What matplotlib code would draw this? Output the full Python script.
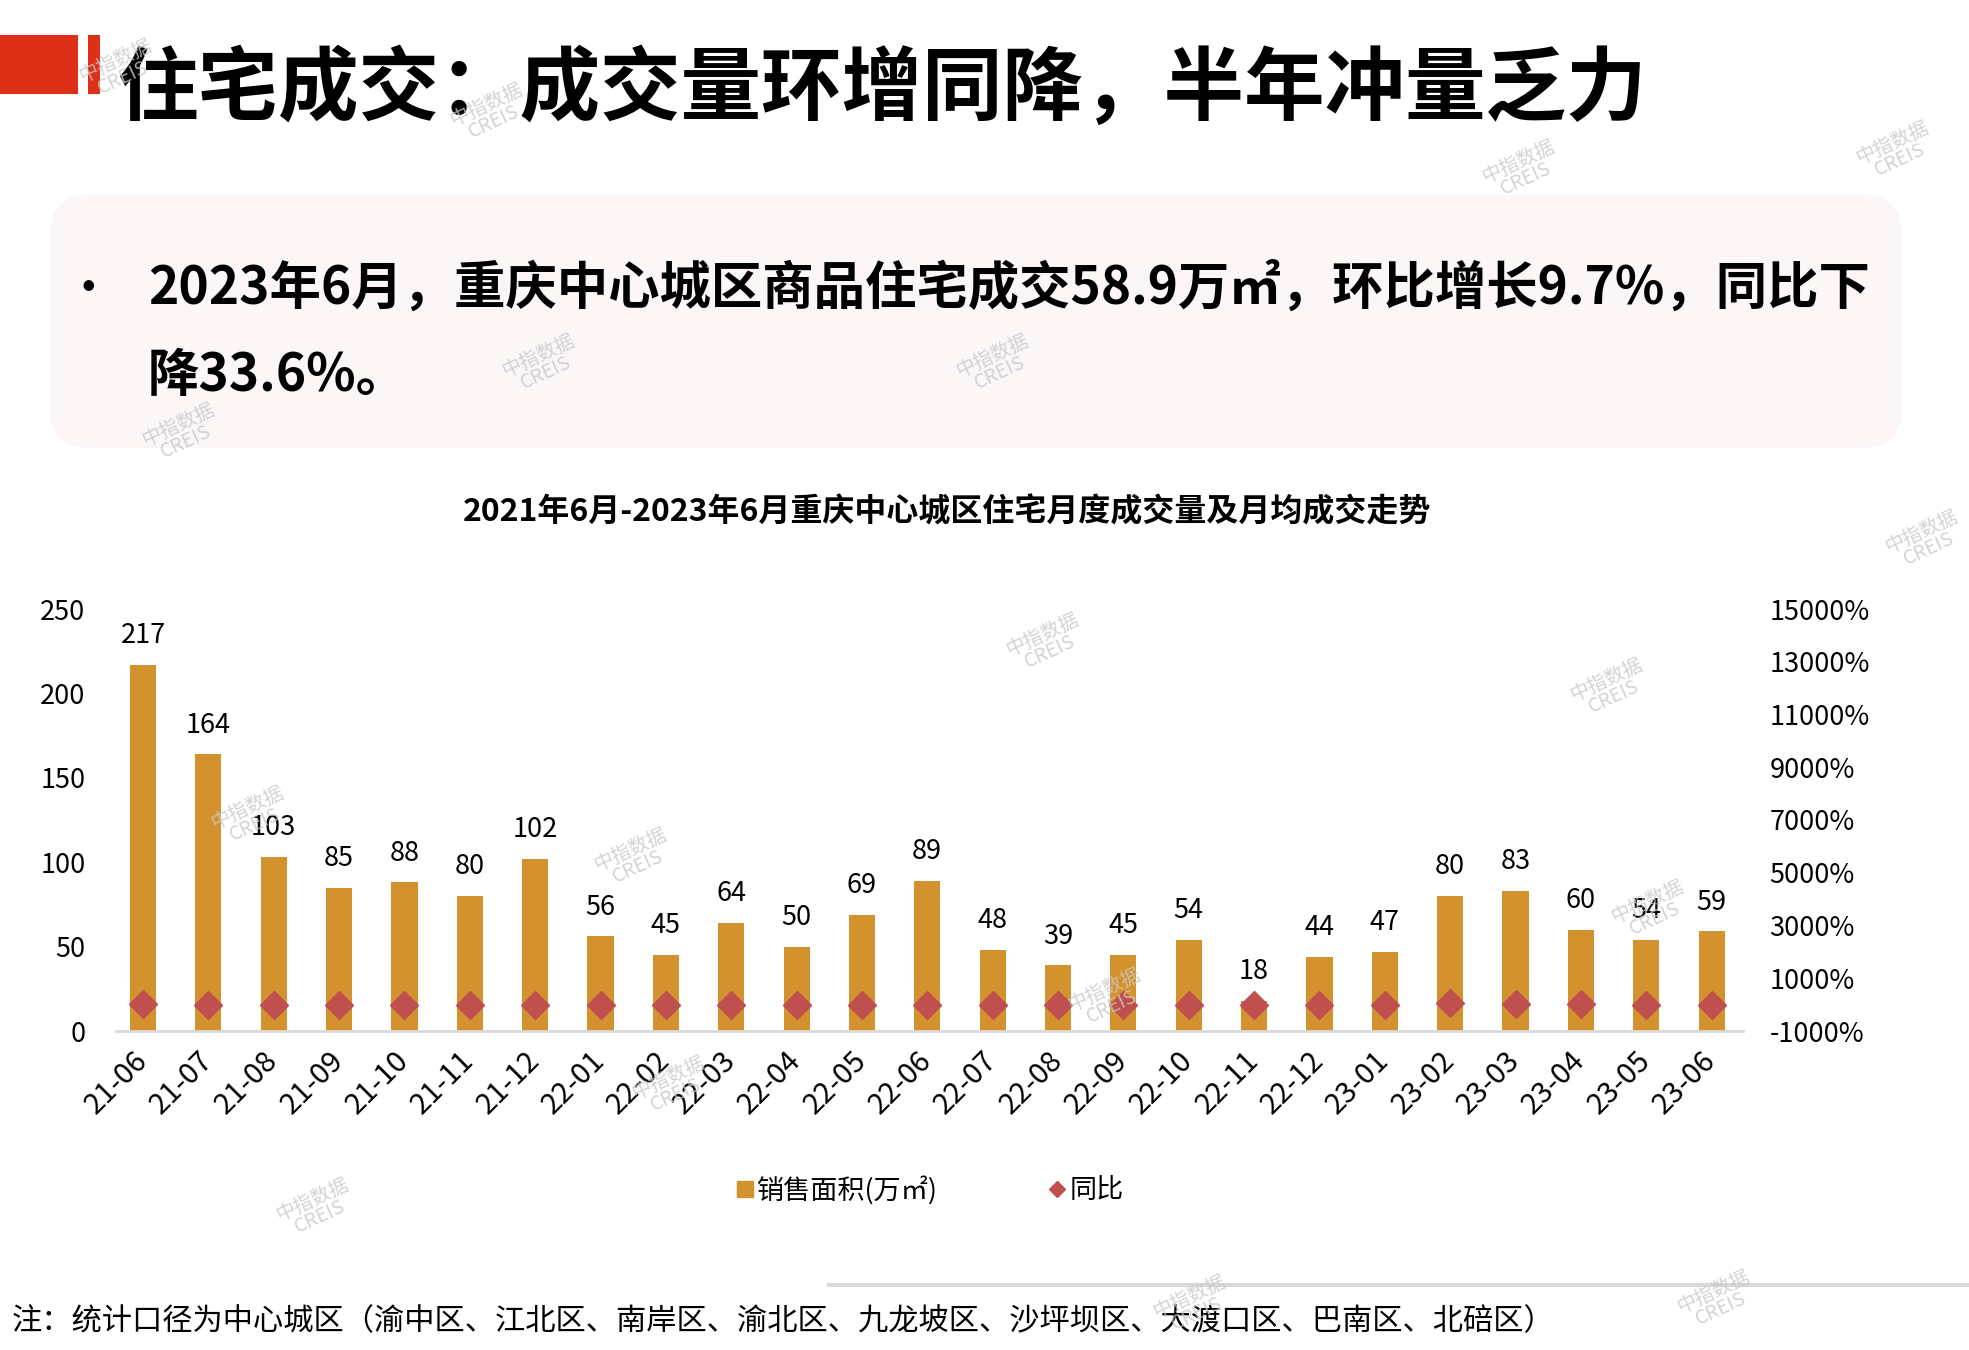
import matplotlib
matplotlib.use('Agg')
import matplotlib.pyplot as plt
from matplotlib.patches import Rectangle, FancyBboxPatch
from matplotlib.lines import Line2D
import numpy as np

plt.rcParams['font.family'] = ['Noto Sans CJK SC', 'DejaVu Sans']

# 数据
months = ['21-06', '21-07', '21-08', '21-09', '21-10', '21-11', '21-12',
          '22-01', '22-02', '22-03', '22-04', '22-05', '22-06', '22-07',
          '22-08', '22-09', '22-10', '22-11', '22-12', '23-01', '23-02',
          '23-03', '23-04', '23-05', '23-06']
area = [217, 164, 103, 85, 88, 80, 102, 56, 45, 64, 50, 69, 89, 48,
        39, 45, 54, 18, 44, 47, 80, 83, 60, 54, 59]
yoy = [20, 0, -10, 0, -10, -10, -10, -20, -20, -20, -20, -20, -20, -20,
       -20, -10, -10, -10, -30, -30, 80, 30, 10, -20, -30]
left_ticks = [0, 50, 100, 150, 200, 250]
right_ticks = [-1000, 1000, 3000, 5000, 7000, 9000, 11000, 13000, 15000]

title = '住宅成交：成交量环增同降，半年冲量乏力'
line1 = '2023年6月，重庆中心城区商品住宅成交58.9万㎡，环比增长9.7%，同比下'
line2 = '降33.6%。'
chart_title = '2021年6月-2023年6月重庆中心城区住宅月度成交量及月均成交走势'
note = '注：统计口径为中心城区（渝中区、江北区、南岸区、渝北区、九龙坡区、沙坪坝区、大渡口区、巴南区、北碚区）'

W, H = 1969, 1350
bar_color = '#D4922F'
dia_color = '#C0504D'

fig = plt.figure(figsize=(W / 100, H / 100), dpi=100)
fig.patch.set_facecolor('white')

def fx(x):
    return x / W

def fy(y):
    return 1 - y / H

# 左上角红块
fig.patches.append(Rectangle((0, fy(94)), fx(78), (94 - 35) / H, transform=fig.transFigure,
                             facecolor='#DD3016', edgecolor='none'))
fig.patches.append(Rectangle((fx(88), fy(94)), fx(12), (94 - 35) / H, transform=fig.transFigure,
                             facecolor='#DD3016', edgecolor='none'))
fig.text(fx(117), fy(90), title, fontsize=58, fontweight='heavy', va='center', ha='left')

# 粉色框
box = FancyBboxPatch((0.5, (H - 448) / 100), 18.52, 2.53,
                     boxstyle='round,pad=0,rounding_size=0.4',
                     transform=fig.dpi_scale_trans, facecolor='#FCF6F6', edgecolor='none')
fig.patches.append(box)
fig.text(fx(88), fy(290), '•', fontsize=30, fontweight='bold', va='center', ha='center')
fig.text(fx(148), fy(288), line1, fontsize=37, fontweight='bold', va='center', ha='left')
fig.text(fx(148), fy(376), line2, fontsize=37, fontweight='bold', va='center', ha='left')

fig.text(fx(947), fy(512), chart_title, fontsize=23, fontweight='bold', va='center', ha='center')

# 图表
ax = fig.add_axes([fx(116), (H - 1031) / H, 1627 / W, 422 / H])
x = np.arange(len(months))
ax.bar(x, area, width=0.4, color=bar_color, zorder=2)
for i, v in enumerate(area):
    ax.annotate(str(v), (i, v), xytext=(0, 21), textcoords='offset points',
                ha='center', va='center', fontsize=19.5)
ax.set_xlim(-0.413, 24.48)
ax.set_ylim(0, 250)
ax.set_yticks(left_ticks)
ax.set_xticks(x)
ax.set_xticklabels(months, rotation=45, ha='right', va='center', rotation_mode='anchor', fontsize=21)
ax.tick_params(axis='y', length=0, pad=22, labelsize=19.5)
ax.tick_params(axis='x', length=0, pad=18)
for s in ['top', 'left', 'right']:
    ax.spines[s].set_visible(False)
ax.spines['bottom'].set_color('#D9D9D9')
ax.spines['bottom'].set_linewidth(2)

ax2 = ax.twinx()
ax2.plot(x, yoy, linestyle='none', marker='D', markersize=14, color=dia_color, zorder=3)
ax2.set_ylim(-1000, 15000)
ax2.set_yticks(right_ticks)
ax2.set_yticklabels([f'{t}%' for t in right_ticks])
ax2.tick_params(axis='y', length=0, pad=19, labelsize=19.5)
for s in ['top', 'left', 'right', 'bottom']:
    ax2.spines[s].set_visible(False)

handles = [Line2D([], [], linestyle='none', marker='s', markersize=11, color=bar_color),
           Line2D([], [], linestyle='none', marker='D', markersize=8, color=dia_color)]
fig.legend(handles, ['销售面积(万㎡)', '同比'], loc='center', bbox_to_anchor=(fx(930), fy(1190)),
           ncol=2, frameon=False, fontsize=19.5, columnspacing=4.1, handlelength=0.6, handletextpad=0.15)

# 底部
fig.add_artist(Line2D([fx(829), 1], [fy(1285), fy(1285)], transform=fig.transFigure,
                      color='#D9D9D9', lw=3))
fig.text(fx(12), fy(1322), note, fontsize=21.8, va='center', ha='left')

# 水印
marks = [(119, 69), (490, 113), (1522, 170), (1896, 151), (542, 364), (996, 364),
         (182, 433), (1046, 643), (1610, 688), (1925, 540), (251, 816), (634, 858),
         (1651, 910), (1108, 998), (672, 1086), (316, 1208), (1717, 1300), (1193, 1305)]
for mx, my in marks:
    fig.text(fx(mx), fy(my), '中指数据\nCREIS', fontsize=14, color='#C8C8C8', alpha=0.8,
             rotation=25, ha='center', va='center', linespacing=0.9, zorder=10)

fig.savefig('out.png', dpi=100)
